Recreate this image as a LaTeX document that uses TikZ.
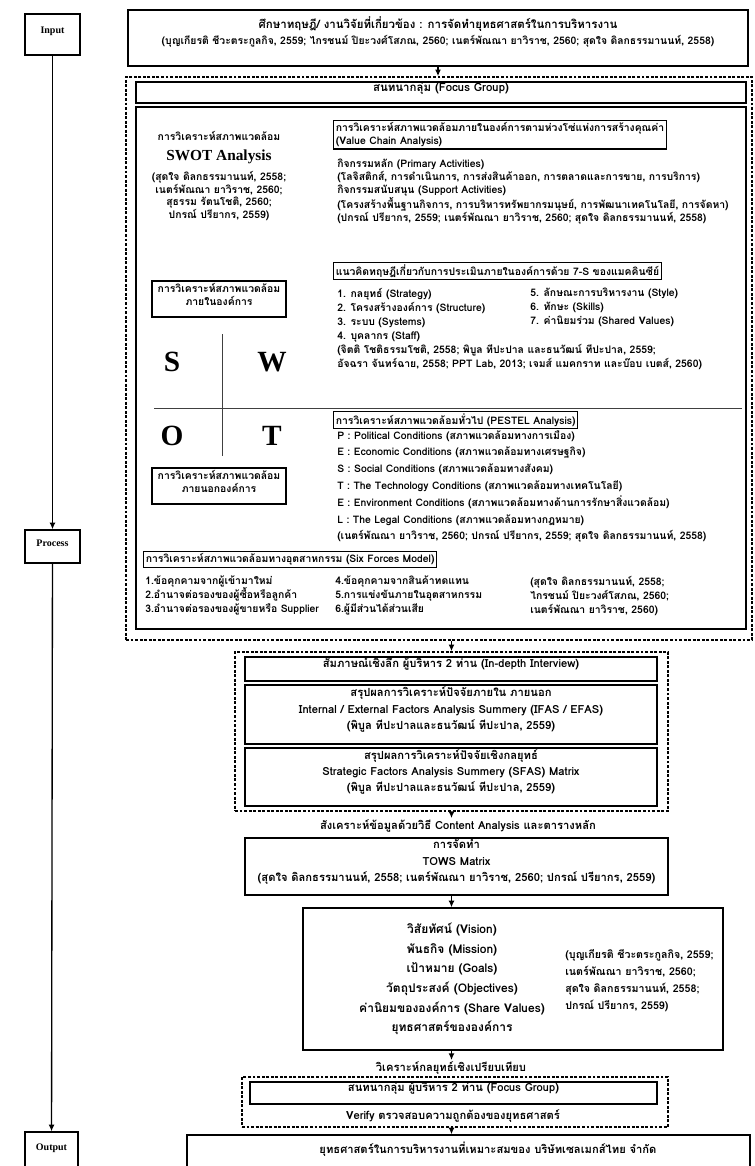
\documentclass[tikz,border=0pt]{standalone}
\usepackage{fontspec}
\setmainfont{Loma}[Script=Thai]
\newfontfamily\latinserif{Liberation Serif}
\usetikzlibrary{arrows.meta, positioning, fit}

\newcommand{\smalltxt}{\bfseries\fontsize{7.8}{9.6}\selectfont}
\newcommand{\lowtxt}{\bfseries\fontsize{8.4}{12.2}\selectfont}
\newcommand{\midtxt}{\bfseries\fontsize{8.6}{11}\selectfont}

\tikzset{
	frame/.style={draw, line width=1pt, inner sep=0pt, align=center, font=\smalltxt},
	headbox/.style={draw, line width=1pt, inner sep=1.6pt, align=left, font=\smalltxt, anchor=north west},
	group/.style={draw, line width=1.2pt, dash pattern=on 2.2pt off 1.2pt, inner sep=0pt},
	plain/.style={inner sep=0pt, align=left, font=\smalltxt, anchor=north west},
	caption/.style={inner sep=1pt, align=center, font=\smalltxt},
	swot/.style={inner sep=0pt, font=\latinserif\bfseries\fontsize{22}{22}\selectfont},
	stage/.style={frame, font=\latinserif\bfseries\fontsize{7.5}{8}\selectfont},
	arrow/.style={-{Latex[length=5pt, width=4.5pt]}, line width=1pt},
	rule/.style={line width=0.6pt, draw=black!75},
}

\begin{document}
\begin{tikzpicture}[x=0.75pt, y=-0.75pt]
	\useasboundingbox (0,0) rectangle (755,1166);
	\clip (0,0) rectangle (755,1166);

	% stages on the left
	\node[stage, fit={(25,14) (80,55)}] (input) {Input};
	\node[stage, fit={(25,530) (80,563)}] (process) {Process};
	\node[stage, fit={(25,1132) (78,1172)}] (output) {Output};
	\draw[arrow] (input) -- (process);
	\draw[arrow] (process) -- (output);

	% literature
	\node[frame, fit={(128,10) (748,66)}] (source) {{\midtxt ศึกษาทฤษฎี/ งานวิจัยที่เกี่ยวข้อง : การจัดทำยุทธศาสตร์ในการบริหารงาน}\\[2pt] (บุญเกียรติ ชีวะตระกูลกิจ, 2559; ไกรชนม์ ปิยะวงศ์โสภณ, 2560; เนตร์พัณณา ยาวิราช, 2560; สุดใจ ดิลกธรรมานนท์, 2558)};

	% phase 1 : focus group
	\node[group, fit={(126,77) (752,640)}] (phase1) {};
	\draw[arrow] (source.south) -- (source.south |- phase1.north);
	\node[frame, fit={(136,82) (746,103)}] (focus) {\midtxt สนทนากลุ่ม (Focus Group)};
	\node[frame, fit={(136,107) (746,629)}] (env) {};

	% swot
	\node[caption] (swottitle) at (219,136) {การวิเคราะห์สภาพแวดล้อม};
	\node[caption, font=\latinserif\bfseries\fontsize{11.5}{12}\selectfont] (swotname) at (219,157) {SWOT Analysis};
	\node[caption, anchor=north, font=\bfseries\fontsize{7.8}{9.4}\selectfont] (swotref) at (219,170) {(สุดใจ ดิลกธรรมานนท์, 2558;\\ เนตร์พัณณา ยาวิราช, 2560;\\ สุธรรม รัตนโชติ, 2560;\\ ปกรณ์ ปรียากร, 2559)};
	\node[frame, fit={(152,281) (286,317)}] (internal) {การวิเคราะห์สภาพแวดล้อม\\ ภายในองค์การ};
	\node[swot] (s) at (172,362) {S};
	\node[swot] (w) at (272,362) {W};
	\node[swot] (o) at (172,436) {O};
	\node[swot] (t) at (272,436) {T};
	\draw[rule] (222,334) -- (222,456);
	\draw[rule] (154,408) -- (742,408);
	\node[frame, fit={(152,468) (286,504)}] (external) {การวิเคราะห์สภาพแวดล้อม\\ ภายนอกองค์การ};

	% value chain
	\node[headbox] (valuechain) at (333,120) {การวิเคราะห์สภาพแวดล้อมภายในองค์การตามห่วงโซ่แห่งการสร้างคุณค่า\\ (Value Chain Analysis)};
	\node[plain] (activities) at (337,159) {กิจกรรมหลัก (Primary Activities)\\ (โลจิสติกส์, การดำเนินการ, การส่งสินค้าออก, การตลาดและการขาย, การบริการ)\\ กิจกรรมสนับสนุน (Support Activities)\\ (โครงสร้างพื้นฐานกิจการ, การบริหารทรัพยากรมนุษย์, การพัฒนาเทคโนโลยี, การจัดหา)\\ (ปกรณ์ ปรียากร, 2559; เนตร์พัณณา ยาวิราช, 2560; สุดใจ ดิลกธรรมานนท์, 2558)};

	% 7-S
	\node[headbox] (sevens) at (333,262) {แนวคิดทฤษฎีเกี่ยวกับการประเมินภายในองค์การด้วย 7-S ของแมคคินซีย์};
	\node[plain, font=\bfseries\fontsize{7.8}{10.5}\selectfont] (sevenleft) at (337,288) {1. กลยุทธ์ (Strategy)\\ 2. โครงสร้างองค์การ (Structure)\\ 3. ระบบ (Systems)\\ 4. บุคลากร (Staff)};
	\node[plain, font=\bfseries\fontsize{7.8}{10.5}\selectfont] (sevenright) at (530,288) {5. ลักษณะการบริหารงาน (Style)\\ 6. ทักษะ (Skills)\\ 7. ค่านิยมร่วม (Shared Values)};
	\node[plain, font=\bfseries\fontsize{7.8}{10.5}\selectfont] (sevenref) at (337,344) {(จิตติ โชติธรรมโชติ, 2558; พิบูล ทีปะปาล และธนวัฒน์ ทีปะปาล, 2559;\\ อัจฉรา จันทร์ฉาย, 2558; PPT Lab, 2013; เจมส์ แมคกราท และบ๊อบ เบตส์, 2560)};

	% pestel
	\node[headbox] (pestel) at (333,411) {การวิเคราะห์สภาพแวดล้อมทั่วไป (PESTEL Analysis)};
	\node[plain, font=\bfseries\fontsize{7.8}{12.6}\selectfont] (pestellist) at (337,430) {P : Political Conditions (สภาพแวดล้อมทางการเมือง)\\ E : Economic Conditions (สภาพแวดล้อมทางเศรษฐกิจ)\\ S : Social Conditions (สภาพแวดล้อมทางสังคม)\\ T : The Technology Conditions (สภาพแวดล้อมทางเทคโนโลยี)\\ E : Environment Conditions (สภาพแวดล้อมทางด้านการรักษาสิ่งแวดล้อม)\\ L : The Legal Conditions (สภาพแวดล้อมทางกฎหมาย)\\ (เนตร์พัณณา ยาวิราช, 2560; ปกรณ์ ปรียากร, 2559; สุดใจ ดิลกธรรมานนท์, 2558)};

	% six forces
	\node[headbox] (sixforces) at (143,551) {การวิเคราะห์สภาพแวดล้อมทางอุตสาหกรรม (Six Forces Model)};
	\node[plain, font=\bfseries\fontsize{7.8}{10.5}\selectfont] (forcesa) at (145,576) {1.ข้อคุกคามจากผู้เข้ามาใหม่\\ 2.อำนาจต่อรองของผู้ซื้อหรือลูกค้า\\ 3.อำนาจต่อรองของผู้ขายหรือ Supplier};
	\node[plain, font=\bfseries\fontsize{7.8}{10.5}\selectfont] (forcesb) at (335,576) {4.ข้อคุกคามจากสินค้าทดแทน\\ 5.การแข่งขันภายในอุตสาหกรรม\\ 6.ผู้มีส่วนได้ส่วนเสีย};
	\node[plain, font=\bfseries\fontsize{7.8}{10.5}\selectfont] (forcesref) at (530,576) {(สุดใจ ดิลกธรรมานนท์, 2558;\\ ไกรชนม์ ปิยะวงศ์โสภณ, 2560;\\ เนตร์พัณณา ยาวิราช, 2560)};

	% phase 2 : interview and summaries
	\node[group, fit={(235,652) (668,811)}] (phase2) {};
	\draw[arrow] (phase1.south -| phase2.north) -- (phase2.north);
	\node[frame, font=\lowtxt, fit={(245,657) (657,681)}] (interview) {สัมภาษณ์เชิงลึก ผู้บริหาร 2 ท่าน (In-depth Interview)};
	\node[frame, font=\lowtxt, fit={(245,685) (657,744)}] (ifas) {สรุปผลการวิเคราะห์ปัจจัยภายใน ภายนอก\\ Internal / External Factors Analysis Summery (IFAS / EFAS)\\ (พิบูล ทีปะปาลและธนวัฒน์ ทีปะปาล, 2559)};
	\node[frame, font=\lowtxt, fit={(245,748) (657,806)}] (sfas) {สรุปผลการวิเคราะห์ปัจจัยเชิงกลยุทธ์\\ Strategic Factors Analysis Summery (SFAS) Matrix\\ (พิบูล ทีปะปาลและธนวัฒน์ ทีปะปาล, 2559)};

	\node[caption, font=\lowtxt] (synthesis) at (458,826) {สังเคราะห์ข้อมูลด้วยวิธี Content Analysis และตารางหลัก};
	\draw[arrow] (phase2.south) -- (phase2.south |- synthesis.north);
	\node[frame, font=\lowtxt, fit={(245,838) (668,895)}] (tows) {การจัดทำ\\ TOWS Matrix\\ (สุดใจ ดิลกธรรมานนท์, 2558; เนตร์พัณณา ยาวิราช, 2560; ปกรณ์ ปรียากร, 2559)};

	% vision box
	\node[frame, fit={(303,908) (723,1050)}] (vision) {};
	\draw[arrow] (phase2.south |- tows.south) -- (phase2.south |- vision.north);
	\node[caption, font=\bfseries\fontsize{9}{14.7}\selectfont] (visionlist) at (452,979) {วิสัยทัศน์ (Vision)\\ พันธกิจ (Mission)\\ เป้าหมาย (Goals)\\ วัตถุประสงค์ (Objectives)\\ ค่านิยมขององค์การ (Share Values)\\ ยุทธศาสตร์ขององค์การ};
	\node[plain, font=\bfseries\fontsize{8}{12.7}\selectfont] (visionref) at (565,949) {(บุญเกียรติ ชีวะตระกูลกิจ, 2559;\\ เนตร์พัณณา ยาวิราช, 2560;\\ สุดใจ ดิลกธรรมานนท์, 2558;\\ ปกรณ์ ปรียากร, 2559)};

	\node[caption, font=\lowtxt] (compare) at (451,1068) {วิเคราะห์กลยุทธ์เชิงเปรียบเทียบ};
	\draw[arrow] (phase2.south |- vision.south) -- (phase2.south |- compare.north);

	% phase 3 : verify
	\node[group, fit={(242,1077) (668,1127)}] (phase3) {};
	\node[frame, font=\lowtxt, fit={(250,1082) (657,1104)}] (review) {สนทนากลุ่ม ผู้บริหาร 2 ท่าน (Focus Group)};
	\node[caption, font=\lowtxt] (verify) at (453,1116) {Verify ตรวจสอบความถูกต้องของยุทธศาสตร์};

	\node[frame, fit={(187,1135) (750,1178)}] (strategy) {};
	\node[caption, font=\lowtxt] (strategytext) at (488,1149) {ยุทธศาสตร์ในการบริหารงานที่เหมาะสมของ บริษัทเซลเมกส์ไทย จำกัด};
	\draw[arrow] (phase2.south |- phase3.south) -- (phase2.south |- strategy.north);
\end{tikzpicture}
\end{document}
